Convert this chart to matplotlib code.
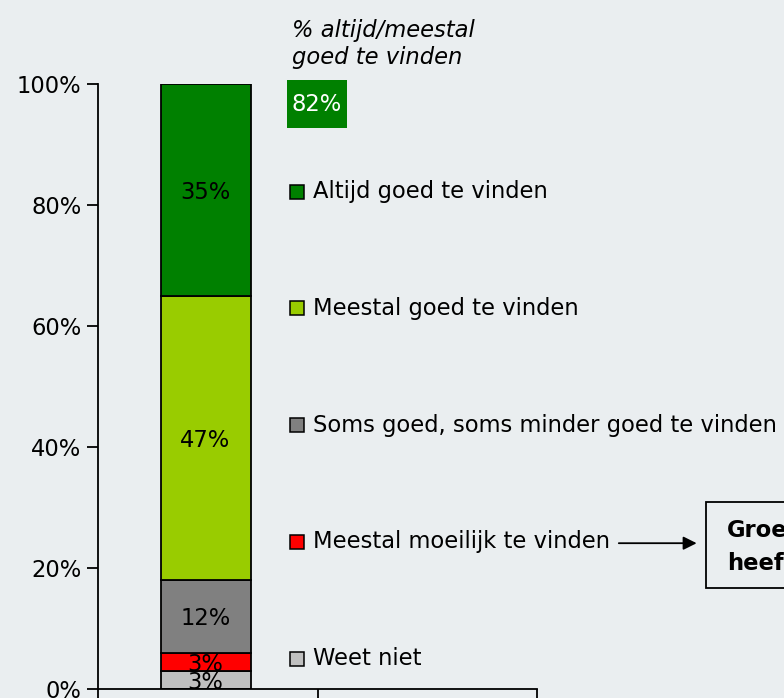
import matplotlib.pyplot as plt
import matplotlib.patches as patches

# data (bottom -> top)
categories = ['Weet niet', 'Meestal moeilijk te vinden', 'Soms goed, soms minder goed te vinden',
              'Meestal goed te vinden', 'Altijd goed te vinden']
values = [3, 3, 12, 47, 35]
colors = ['#C0C0C0', '#FF0000', '#808080', '#99CC00', '#008000']
yticks = [0, 20, 40, 60, 80, 100]
ytick_labels = ['0%', '20%', '40%', '60%', '80%', '100%']

bg = '#EAEEF0'
fs = 16.3
plt.rcParams['font.family'] = ['DejaVu Sans']

fig = plt.figure(figsize=(7.84, 6.98), dpi=100, facecolor=bg)
ax = fig.add_axes([98 / 784, 9 / 698, 439 / 784, 605 / 698])
ax.set_facecolor(bg)

bottom = 0
for v, c in zip(values, colors):
    ax.bar(-0.01, v, width=0.41, bottom=bottom, color=c, edgecolor='black', linewidth=1.3)
    ax.text(-0.01, bottom + v / 2 - 0.4, '%d%%' % v, ha='center', va='center', fontsize=fs, color='black')
    bottom += v

ax.set_xlim(-0.5, 1.5)
ax.set_ylim(0, 100)
ax.set_yticks(yticks)
ax.set_yticklabels(ytick_labels, fontsize=fs)
ax.set_xticks([-0.5, 0.5, 1.5])
ax.set_xticklabels([])
ax.tick_params(axis='y', direction='out', length=8, width=1.3, pad=4)
ax.tick_params(axis='x', direction='out', length=10, width=1.3)
for s in ['top', 'right']:
    ax.spines[s].set_visible(False)
for s in ['left', 'bottom']:
    ax.spines[s].set_linewidth(1.3)

# legend-like labels next to the bar
lx = 0.375
for i, (name, c) in enumerate(zip(categories, colors)):
    y = 5.0 + i * 19.3
    ax.add_patch(patches.Rectangle((lx, y - 1.15), 0.064, 2.3, facecolor=c, edgecolor='black',
                                   linewidth=1.1, clip_on=False))
    ax.text(lx + 0.105, y, name, ha='left', va='center', fontsize=fs, clip_on=False)

# header + total box
ax.text(0.385, 106.6, '% altijd/meestal\ngoed te vinden', ha='left', va='center', fontsize=fs,
        style='italic', linespacing=1.25, clip_on=False)
total = values[3] + values[4]
ax.add_patch(patches.Rectangle((0.361, 92.7), 0.273, 8.0, facecolor='#008000', edgecolor='none',
                               clip_on=False))
ax.text(0.4975, 96.6, '%d%%' % total, ha='center', va='center', fontsize=fs, color='white',
        clip_on=False)

# arrow to the note box
ax.annotate('', xy=(2.24, 24.1), xytext=(1.86, 24.1),
            arrowprops=dict(arrowstyle='-|>', color='black', lw=1.3, mutation_scale=20),
            annotation_clip=False)
fig.patches.append(patches.Rectangle((706 / 784, 110 / 698), 0.2, 86 / 698, transform=fig.transFigure,
                                     facecolor=bg, edgecolor='black', linewidth=1.3))
fig.text(727 / 784, 168 / 698, 'Groep', fontsize=fs, fontweight='bold', va='center')
fig.text(727 / 784, 135 / 698, 'heeft', fontsize=fs, fontweight='bold', va='center')

fig.savefig('out.png', dpi=100, facecolor=bg)
